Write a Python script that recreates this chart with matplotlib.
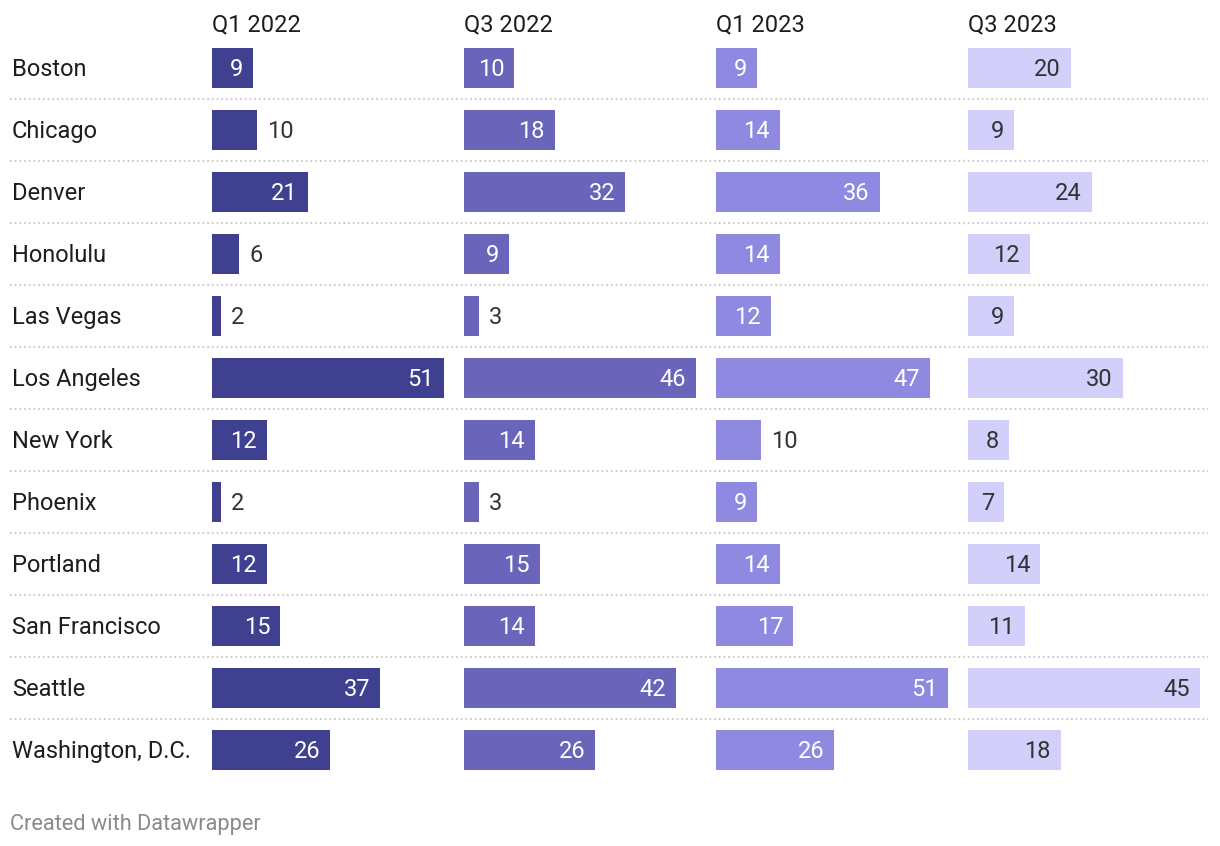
import matplotlib
matplotlib.use("Agg")
import matplotlib.pyplot as plt
import matplotlib.transforms as mtransforms

plt.rcParams['font.family'] = ['Roboto', 'DejaVu Sans']

cities = ["Boston", "Chicago", "Denver", "Honolulu", "Las Vegas", "Los Angeles",
          "New York", "Phoenix", "Portland", "San Francisco", "Seattle",
          "Washington, D.C."]
periods = ["Q1 2022", "Q3 2022", "Q1 2023", "Q3 2023"]
q1_2022 = [9, 10, 21, 6, 2, 51, 12, 2, 12, 15, 37, 26]
q3_2022 = [10, 18, 32, 9, 3, 46, 14, 3, 15, 14, 42, 26]
q1_2023 = [9, 14, 36, 14, 12, 47, 10, 9, 14, 17, 51, 26]
q3_2023 = [20, 9, 24, 12, 9, 30, 8, 7, 14, 11, 45, 18]
series = [q1_2022, q3_2022, q1_2023, q3_2023]
colors = ["#404090", "#6a64ba", "#8f89e1", "#d2cffb"]
inside_text = ["white", "white", "white", "#333333"]

W, H = 1220, 846
fig = plt.figure(figsize=(W / 100, H / 100), dpi=100)
fig.patch.set_facecolor("white")

n = len(cities)
row_h = 62
top_px = 37
ax_h_px = row_h * n
FS = 17
dy = 0.7  # points, lift text slightly

def fx(px):
    return px / W

def fy(px):
    return 1 - px / H

bg = fig.add_axes([fx(10), fy(top_px + ax_h_px), fx(1198), ax_h_px / H])
bg.set_xlim(0, 1)
bg.set_ylim(n - 0.5, -0.5)
bg.axis("off")
for k in range(n - 1):
    bg.axhline(k + 0.5, color="#c8c8c8", linewidth=1.3, linestyle=(0, (1, 1.6)))

trans = mtransforms.blended_transform_factory(fig.transFigure, bg.transData)
trans = trans + mtransforms.ScaledTranslation(0, dy / 72, fig.dpi_scale_trans)
for i, c in enumerate(cities):
    bg.text(fx(12), i, c, transform=trans, ha="left", va="center_baseline",
            fontsize=FS, color="#1d1d1d")

col_w = 232
for j, (vals, col) in enumerate(zip(series, colors)):
    left = 212 + 252 * j
    ax = fig.add_axes([fx(left), fy(top_px + ax_h_px), col_w / W, ax_h_px / H])
    vmax = max(vals)
    ax.set_xlim(0, vmax)
    ax.set_ylim(n - 0.5, -0.5)
    ax.axis("off")
    ax.barh(range(n), vals, height=40 / row_h, color=col, linewidth=0)
    fig.text(fx(left), fy(22), periods[j], ha="left", va="center_baseline",
             fontsize=FS, color="#1d1d1d")
    for i, v in enumerate(vals):
        wpx = v / vmax * col_w
        label = str(v)
        if wpx >= len(label) * 16 + 16:
            ax.annotate(label, (v, i), xytext=(-7.2, dy), textcoords="offset points",
                        ha="right", va="center_baseline", fontsize=FS,
                        color=inside_text[j])
        else:
            ax.annotate(label, (v, i), xytext=(7.2, dy), textcoords="offset points",
                        ha="left", va="center_baseline", fontsize=FS,
                        color="#333333")

fig.text(fx(10), fy(822), "Created with Datawrapper", ha="left",
         va="center_baseline", fontsize=15.7, color="#8a8a8a")

fig.savefig("out.png", dpi=100, facecolor="white")
